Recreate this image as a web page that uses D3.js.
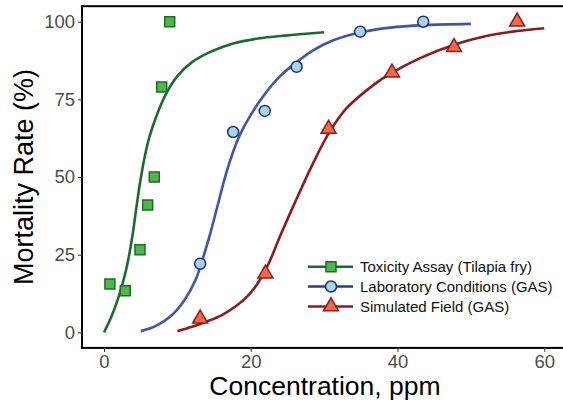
<!DOCTYPE html>
<html><head><meta charset="utf-8">
<script src="https://cdn.jsdelivr.net/npm/d3@7"></script>
<style>html,body{margin:0;padding:0;background:#fff;} svg{display:block;font-family:"Liberation Sans",Arial,sans-serif;}</style>
</head><body>
<svg id="chart" width="563" height="402"></svg>
<script>
// ---- data ----
const seriesNames = ["Toxicity Assay (Tilapia fry)", "Laboratory Conditions (GAS)", "Simulated Field (GAS)"];
const toxX = [0.8, 2.9, 4.9, 5.95, 6.85, 7.86, 8.95];
const toxY = [15.6, 13.4, 26.6, 41, 50, 79, 100];
const labX = [13.1, 17.6, 21.9, 26.25, 34.9, 43.5];
const labY = [22.1, 64.5, 71.3, 85.5, 96.8, 100];
const fieldX = [13.1, 22.0, 30.6, 39.25, 47.7, 56.3];
const fieldY = [4.4, 18.9, 65.5, 83.6, 91.8, 100];
// fitted curves
const toxCurveX = [0, 1, 2, 3, 3.8, 4.4, 4.9, 5.5, 6.2, 7.2, 8.5, 10, 12, 14.5, 17.6, 21, 25, 30];
const toxCurveY = [0, 5, 11.5, 20, 30, 40, 48, 56, 63, 70, 77, 82.5, 87, 90.3, 93, 94.6, 95.6, 96.6];
const labCurveX = [5, 7, 9, 11, 12.5, 13.5, 14.5, 15.5, 16.5, 17.5, 18.5, 20, 22, 24, 26.25, 28.5, 31, 35, 39, 43.5, 50];
const labCurveY = [0.4, 2, 5, 10.5, 17, 24, 32, 41, 50, 57.5, 63.5, 70, 77, 82.5, 87, 90.8, 93.8, 96.6, 98.1, 98.9, 99.3];
const fieldCurveX = [10, 12, 14, 16, 18, 19.5, 21, 22.5, 24, 25.2, 26.25, 27.5, 28.5, 30.6, 33, 36.7, 39.2, 43, 47.7, 52.1, 56.3, 60];
const fieldCurveY = [0.4, 1.8, 3.5, 5.5, 8.5, 11.5, 16, 22.5, 31, 37.5, 43, 49.5, 54.5, 64, 72, 79.6, 83.5, 88.2, 92.6, 95.4, 97, 97.9];
const xTicks = [0, 20, 40, 60];
const yTicks = [0, 25, 50, 75, 100];

const svg = d3.select("#chart");
const x = d3.scaleLinear().domain([-3, 63]).range([82, 566.3]);
const y = d3.scaleLinear().domain([-5, 105]).range([347.9, 6.2]);

const styles = [
  {line: "#1b6b2f", legLine: "#1b6b2f", fill: "#4db845", stroke: "#1e6b2a", shape: "square"},
  {line: "#3d55ad", legLine: "#2b3a8e", fill: "#a8d6e8", stroke: "#22307d", shape: "circle"},
  {line: "#8e1b1b", legLine: "#8e1b1b", fill: "#f4694a", stroke: "#8e1b1b", shape: "triangle"}
];

function sym(shape) {
  if (shape === "square") return d3.symbol().type(d3.symbolSquare).size(100)();
  if (shape === "circle") return d3.symbol().type(d3.symbolCircle).size(Math.PI * 5.5 * 5.5)();
  return d3.symbol().type(d3.symbolTriangle).size(97)();
}

// panel frame
svg.append("rect").attr("x", x(-3)).attr("y", y(105)).attr("width", x(63) - x(-3)).attr("height", y(-5) - y(105))
  .attr("fill", "none").attr("stroke", "#000").attr("stroke-width", 2);

// axes
const xAxis = d3.axisBottom(x).tickValues(xTicks).tickSize(4).tickPadding(3);
const yAxis = d3.axisLeft(y).tickValues(yTicks).tickSize(4).tickPadding(3);
const gx = svg.append("g").attr("transform", `translate(0,${y(-5)})`).call(xAxis);
const gy = svg.append("g").attr("transform", `translate(${x(-3)},0)`).call(yAxis);
[gx, gy].forEach(g => {
  g.select(".domain").remove();
  g.selectAll(".tick line").attr("stroke", "#333").attr("stroke-width", 1);
  g.selectAll(".tick text").attr("fill", "#4d4d4d").style("font-size", "18.5px")
   .style("font-family", '"Liberation Sans", Arial, sans-serif');
});

// axis titles
svg.append("text").attr("x", 325).attr("y", 395).attr("text-anchor", "middle")
  .style("font-size", "26.5px").attr("fill", "#000").text("Concentration, ppm");
svg.append("text").attr("transform", "translate(33,177) rotate(-90)").attr("text-anchor", "middle")
  .style("font-size", "27px").attr("fill", "#000").text("Mortality Rate (%)");

const line = d3.line().x(d => x(d[0])).y(d => y(d[1])).curve(d3.curveCatmullRom.alpha(0.5));
const curves = [d3.zip(toxCurveX, toxCurveY), d3.zip(labCurveX, labCurveY), d3.zip(fieldCurveX, fieldCurveY)];
const points = [d3.zip(toxX, toxY), d3.zip(labX, labY), d3.zip(fieldX, fieldY)];

const plot = svg.append("g");
curves.forEach((c, i) => {
  plot.append("path").datum(c).attr("d", line).attr("fill", "none")
    .attr("stroke", styles[i].line).attr("stroke-width", 2.6).attr("stroke-linejoin", "round");
});
points.forEach((p, i) => {
  plot.selectAll(null).data(p).enter().append("path")
    .attr("d", sym(styles[i].shape))
    .attr("transform", d => `translate(${x(d[0])},${y(d[1])})`)
    .attr("fill", styles[i].fill).attr("stroke", styles[i].stroke).attr("stroke-width", 1.5);
});

// legend
const leg = svg.append("g");
const legY = [266.7, 286.5, 306.5];
seriesNames.forEach((name, i) => {
  const g = leg.append("g").attr("transform", `translate(0,${legY[i]})`);
  g.append("line").attr("x1", 308).attr("x2", 353).attr("y1", 0).attr("y2", 0)
    .attr("stroke", styles[i].legLine).attr("stroke-width", 2.6);
  g.append("path").attr("d", sym(styles[i].shape)).attr("transform", "translate(331,0)")
    .attr("fill", styles[i].fill).attr("stroke", styles[i].stroke).attr("stroke-width", 1.5);
  g.append("text").attr("x", 360).attr("y", 5.3).style("font-size", "15px").attr("fill", "#111").text(name);
});
</script>
</body></html>
